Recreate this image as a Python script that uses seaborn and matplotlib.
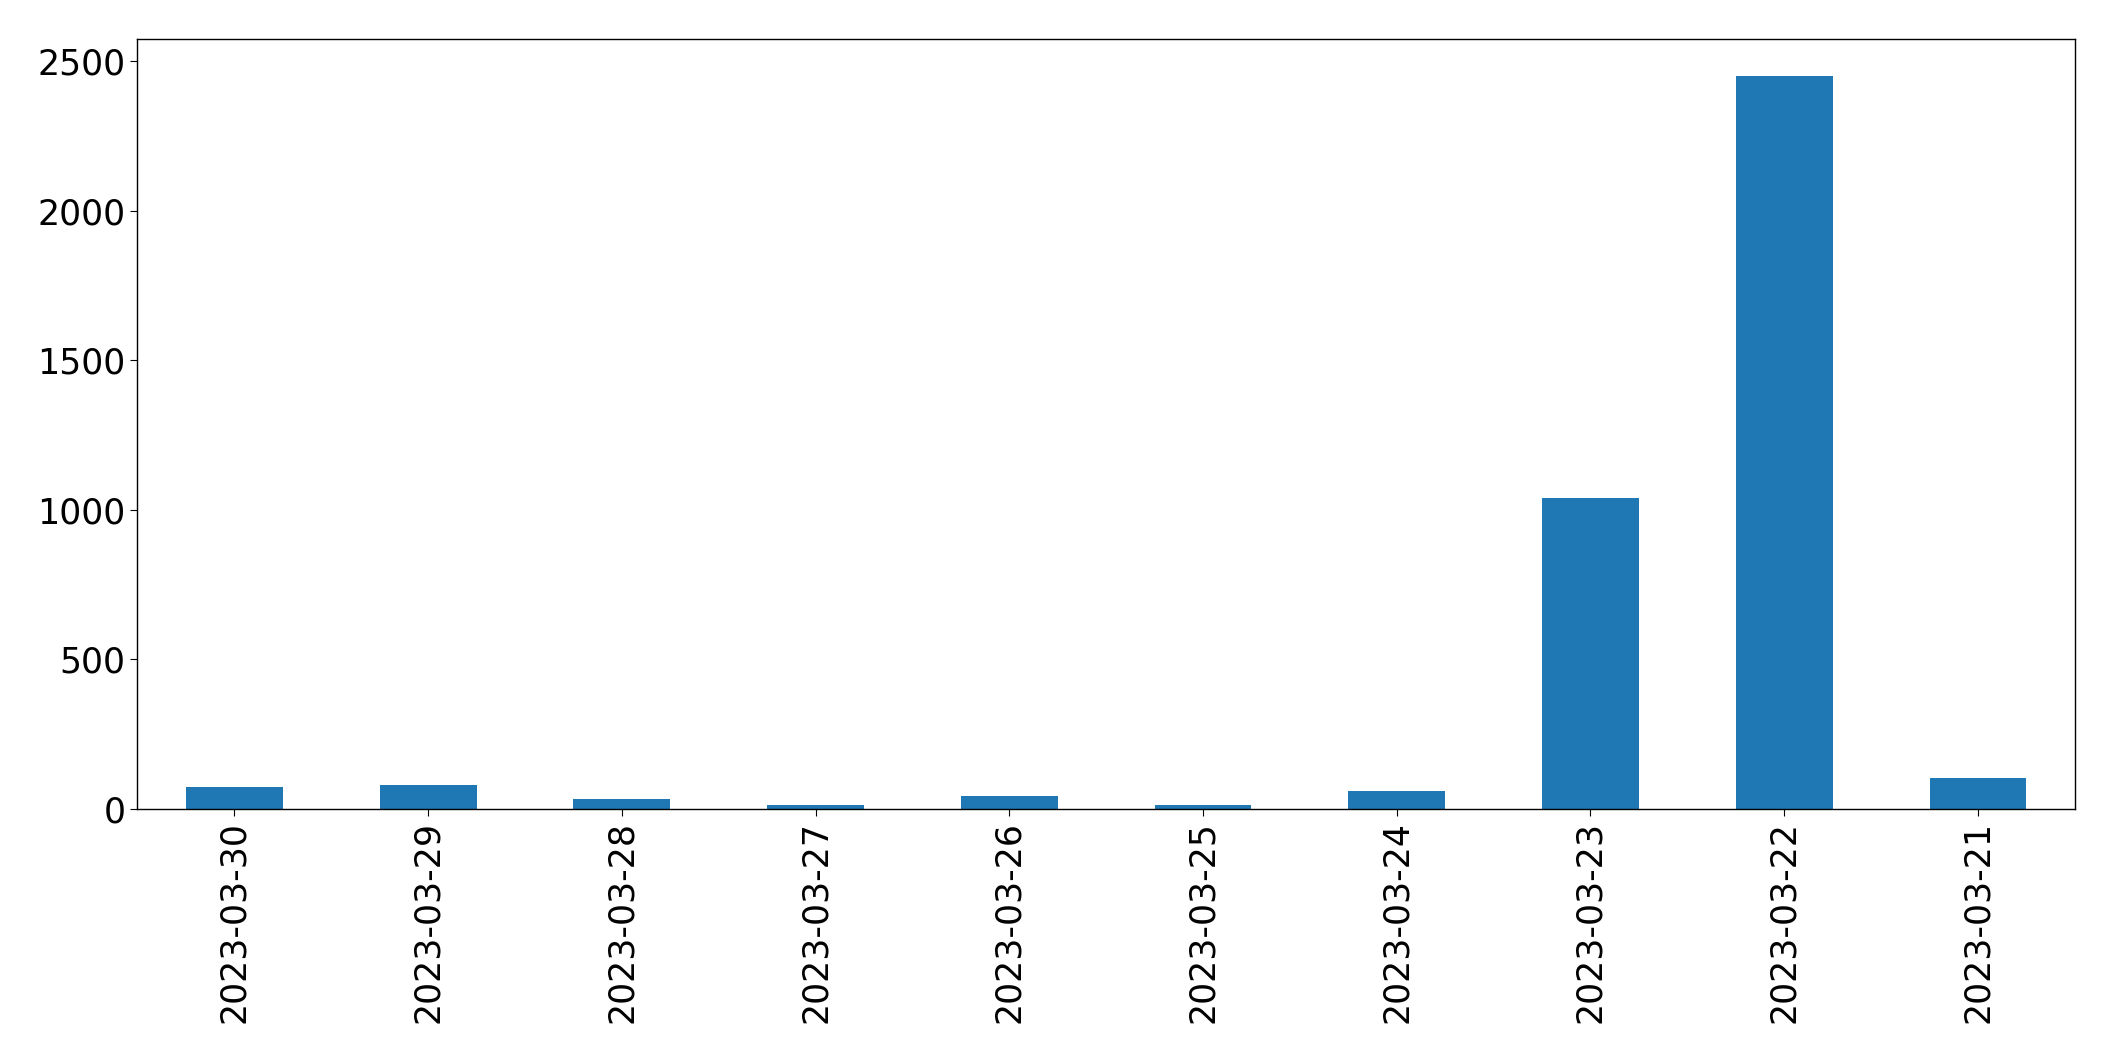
import pandas as pd
import numpy as np

import seaborn as sns
import matplotlib.pyplot as plt

# daily counts, newest first (as in the original chart)
dates = ['2023-03-30', '2023-03-29', '2023-03-28', '2023-03-27', '2023-03-26',
         '2023-03-25', '2023-03-24', '2023-03-23', '2023-03-22', '2023-03-21']
counts = [75, 80, 35, 12, 42, 12, 60, 1038, 2450, 102]

df = pd.DataFrame({'date': dates, 'count': counts})

sns.set_style('white')
plt.rcParams['font.family'] = ['DejaVu Sans']
plt.rcParams['font.size'] = 25
plt.rcParams['text.color'] = 'black'
plt.rcParams['xtick.color'] = 'black'
plt.rcParams['ytick.color'] = 'black'

fig, ax = plt.subplots(figsize=(21.15, 10.61), dpi=100)
sns.barplot(x='date', y='count', data=df, color='#1f77b4', saturation=1,
            width=0.5, linewidth=0, ax=ax)

ax.set_xlim(-0.5, len(dates) - 0.5)
ax.set_ylim(0, max(counts) * 1.05)
ax.set_xlabel('')
ax.set_ylabel('')
ax.tick_params(axis='x', labelrotation=90, labelsize=25, length=5, bottom=True,
               colors='black')
ax.tick_params(axis='y', labelsize=25, length=5, left=True, colors='black')
for s in ax.spines.values():
    s.set_color('black')
    s.set_linewidth(1)

plt.subplots_adjust(left=0.065, right=0.981, top=0.963, bottom=0.2375)
plt.savefig('out.png')
